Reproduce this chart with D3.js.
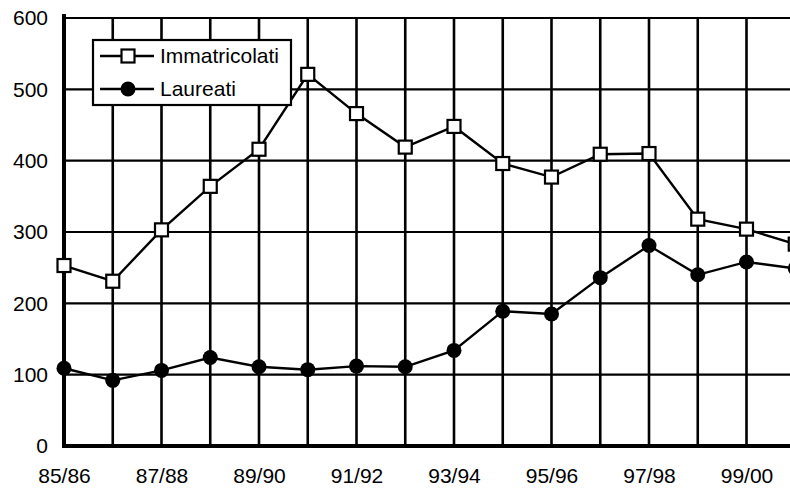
<!DOCTYPE html>
<html>
<head>
<meta charset="utf-8">
<script src="https://cdn.jsdelivr.net/npm/d3@7/dist/d3.min.js"></script>
<style>
  html, body { margin: 0; padding: 0; background: #fff; overflow: hidden; }
  svg { display: block; }
  text { font-family: "Liberation Sans", Arial, sans-serif; fill: #000; }
</style>
</head>
<body>
<svg id="chart" width="790" height="490"></svg>
<script>
// Academic years
const years = ["85/86","86/87","87/88","88/89","89/90","90/91","91/92","92/93",
               "93/94","94/95","95/96","96/97","97/98","98/99","99/00","00/01"];
// Enrolled students per year
const immatricolati = [253, 231, 303, 364, 416, 521, 466, 419, 448, 396, 377, 409, 410, 318, 304, 283];
// Graduates per year
const laureati = [109, 92, 106, 124, 111, 107, 112, 111, 134, 189, 185, 236, 281, 240, 258, 249];
// Tick values
const yTicks = [0, 100, 200, 300, 400, 500, 600];
const xLabelYears = ["85/86","87/88","89/90","91/92","93/94","95/96","97/98","99/00"];

(function () {
  const W = 790;
  const plotLeft = 64, plotTop = 18, plotBottom = 446;
  const step = 48.75;
  const fontSize = 21;

  const svg = d3.select("#chart");

  const x = d3.scalePoint()
    .domain(years)
    .range([plotLeft, plotLeft + step * (years.length - 1)]);

  const y = d3.scaleLinear().domain([0, 600]).range([plotBottom, plotTop]);

  // Horizontal gridlines
  svg.append("g")
    .selectAll("line")
    .data(yTicks.filter(d => d > 0))
    .join("line")
    .attr("x1", plotLeft).attr("x2", W)
    .attr("y1", d => y(d)).attr("y2", d => y(d))
    .attr("stroke", "#000").attr("stroke-width", 2.2);

  // Vertical gridlines
  svg.append("g")
    .selectAll("line")
    .data(years.slice(1))
    .join("line")
    .attr("x1", d => x(d)).attr("x2", d => x(d))
    .attr("y1", plotTop).attr("y2", plotBottom)
    .attr("stroke", "#000").attr("stroke-width", 2.6);

  // Axes
  const yAxis = d3.axisLeft(y).tickValues(yTicks).tickSize(0).tickPadding(16);
  const yg = svg.append("g").attr("transform", `translate(${plotLeft},0)`).call(yAxis);
  yg.select(".domain").remove();
  yg.selectAll("text").attr("font-size", fontSize)
    .attr("font-family", "'Liberation Sans', Arial, sans-serif");

  const xAxis = d3.axisBottom(x).tickValues(xLabelYears).tickSize(0).tickPadding(22);
  const xg = svg.append("g").attr("transform", `translate(0,${plotBottom})`).call(xAxis);
  xg.select(".domain").remove();
  xg.selectAll("text").attr("font-size", fontSize)
    .attr("font-family", "'Liberation Sans', Arial, sans-serif");

  // Thick axis lines
  svg.append("line")
    .attr("x1", plotLeft).attr("x2", plotLeft).attr("y1", plotTop - 4).attr("y2", plotBottom + 2)
    .attr("stroke", "#000").attr("stroke-width", 4);
  svg.append("line")
    .attr("x1", plotLeft - 2).attr("x2", W).attr("y1", plotBottom).attr("y2", plotBottom)
    .attr("stroke", "#000").attr("stroke-width", 4);

  const line = d3.line().x((d, i) => x(years[i])).y(d => y(d));

  // Graduates series
  svg.append("path").datum(laureati)
    .attr("d", line).attr("fill", "none").attr("stroke", "#000").attr("stroke-width", 2.4);
  svg.append("g").selectAll("circle").data(laureati).join("circle")
    .attr("cx", (d, i) => x(years[i])).attr("cy", d => y(d))
    .attr("r", 7.5).attr("fill", "#000");

  // Enrolled series
  svg.append("path").datum(immatricolati)
    .attr("d", line).attr("fill", "none").attr("stroke", "#000").attr("stroke-width", 2.4);
  const sq = 13;
  svg.append("g").selectAll("rect").data(immatricolati).join("rect")
    .attr("x", (d, i) => x(years[i]) - sq / 2).attr("y", d => y(d) - sq / 2)
    .attr("width", sq).attr("height", sq)
    .attr("fill", "#fff").attr("stroke", "#000").attr("stroke-width", 2.2);

  // Legend
  const lg = svg.append("g");
  lg.append("rect").attr("x", 93).attr("y", 40).attr("width", 198).attr("height", 65)
    .attr("fill", "#fff").attr("stroke", "#000").attr("stroke-width", 2.2);
  const items = [
    { name: "Immatricolati", cy: 56, marker: "square" },
    { name: "Laureati", cy: 89, marker: "circle" }
  ];
  items.forEach(it => {
    lg.append("line").attr("x1", 100).attr("x2", 154).attr("y1", it.cy).attr("y2", it.cy)
      .attr("stroke", "#000").attr("stroke-width", 2.4);
    if (it.marker === "square") {
      lg.append("rect").attr("x", 128 - sq / 2).attr("y", it.cy - sq / 2)
        .attr("width", sq).attr("height", sq)
        .attr("fill", "#fff").attr("stroke", "#000").attr("stroke-width", 2.2);
    } else {
      lg.append("circle").attr("cx", 128).attr("cy", it.cy).attr("r", 7.5).attr("fill", "#000");
    }
    lg.append("text").attr("x", 160).attr("y", it.cy).attr("dy", "0.35em")
      .attr("font-size", fontSize).text(it.name);
  });
})();
</script>
</body>
</html>
